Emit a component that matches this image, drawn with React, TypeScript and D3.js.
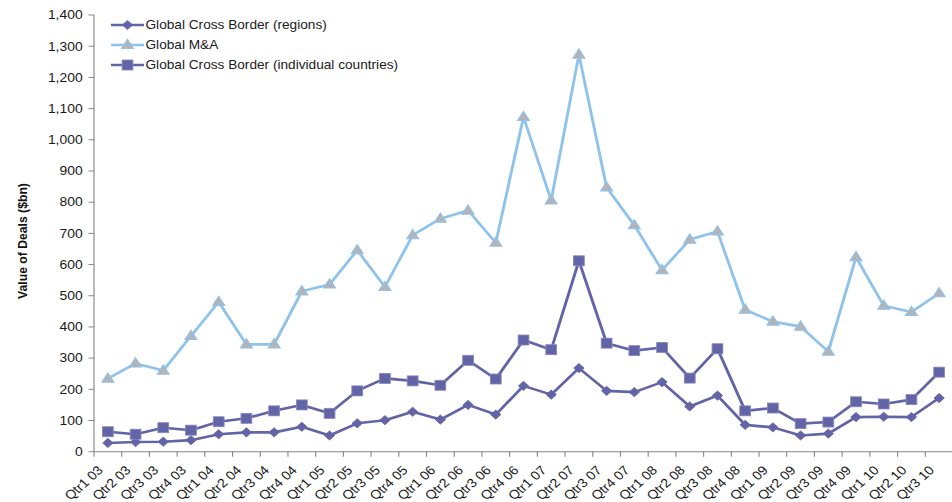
import React from "react";
import * as d3 from "d3";

const categories = [
  "Qtr1 03", "Qtr2 03", "Qtr3 03", "Qtr4 03",
  "Qtr1 04", "Qtr2 04", "Qtr3 04", "Qtr4 04",
  "Qtr1 05", "Qtr2 05", "Qtr3 05", "Qtr4 05",
  "Qtr1 06", "Qtr2 06", "Qtr3 06", "Qtr4 06",
  "Qtr1 07", "Qtr2 07", "Qtr3 07", "Qtr4 07",
  "Qtr1 08", "Qtr2 08", "Qtr3 08", "Qtr4 08",
  "Qtr1 09", "Qtr2 09", "Qtr3 09", "Qtr4 09",
  "Qtr1 10", "Qtr2 10", "Qtr3 10",
];

const crossBorderRegions = [
  28, 31, 32, 37, 56, 62, 62, 80, 52, 91, 101, 128, 103, 150, 119, 211,
  183, 268, 195, 191, 223, 145, 180, 86, 78, 52, 58, 111, 112, 111, 172,
];

const globalMA = [
  234, 283, 260, 371, 480, 344, 344, 514, 536, 646, 528, 694, 747, 773, 670, 1073,
  806, 1273, 847, 726, 582, 680, 706, 455, 417, 401, 321, 624, 468, 448, 508,
];

const crossBorderCountries = [
  64, 56, 77, 69, 96, 107, 131, 150, 123, 195, 235, 227, 213, 293, 233, 358,
  327, 612, 348, 324, 334, 236, 330, 131, 140, 90, 95, 160, 153, 167, 255,
];

const yTicks = [0, 100, 200, 300, 400, 500, 600, 700, 800, 900, 1000, 1100, 1200, 1300, 1400];

const DARK = "#6264a6";
const LIGHT = "#8fc3ea";
const TRI_FILL = "#b3b3b8";
const AXIS = "#868686";
const FONT = "'Liberation Sans', Arial, sans-serif";

// the whole drawing is widened horizontally by this factor
const SX = 1.12;
const W = 952;
const H = 502;

const x = d3.scaleBand<string>().domain(categories).range([94 / SX, 953 / SX]).padding(0);
const y = d3.scaleLinear().domain([0, 1400]).range([451.7, 15]);
const cx = (c: string) => (x(c) as number) + x.bandwidth() / 2;

const fmt = d3.format(",");

function lineFor(vals: number[]) {
  return d3
    .line<number>()
    .x((_, i) => cx(categories[i]))
    .y((v) => y(v))(vals) as string;
}

function Diamond({ px, py }: { px: number; py: number }) {
  const w = 4.6, h = 4.6;
  return <path d={`M${px},${py - h}L${px + w},${py}L${px},${py + h}L${px - w},${py}Z`} fill={DARK} stroke={DARK} strokeWidth={0.8} />;
}

function Square({ px, py }: { px: number; py: number }) {
  const w = 4.8, h = 5;
  return <rect x={px - w} y={py - h} width={2 * w} height={2 * h} fill={DARK} stroke="#8587bf" strokeWidth={0.8} />;
}

function Triangle({ px, py }: { px: number; py: number }) {
  const w = 5.4, top = 5.8, bot = 3.6;
  return <path d={`M${px},${py - top}L${px + w},${py + bot}L${px - w},${py + bot}Z`} fill={TRI_FILL} stroke={LIGHT} strokeWidth={1} />;
}

const series = [
  { name: "Global Cross Border (regions)", values: crossBorderRegions, color: DARK, Marker: Diamond },
  { name: "Global M&A", values: globalMA, color: LIGHT, Marker: Triangle },
  { name: "Global Cross Border (individual countries)", values: crossBorderCountries, color: DARK, Marker: Square },
];

export default function App() {
  const [x0, x1] = x.range();
  const tickXs = categories.map((c) => x(c) as number).concat([x1]);
  return (
    <svg width={W} height={H} style={{ position: "absolute", left: 0, top: 0, background: "#fff" }}>
      <g transform={`scale(${SX},1)`} fontFamily={FONT}>
        {/* y axis */}
        <line x1={x0} x2={x0} y1={y(1400)} y2={y(0)} stroke={AXIS} strokeWidth={1} />
        {yTicks.map((t) => (
          <g key={t}>
            <line x1={x0 - 5.5 / SX} x2={x0} y1={y(t)} y2={y(t)} stroke={AXIS} strokeWidth={1} />
            <text x={73.8} y={y(t)} dy="0.35em" textAnchor="end" fontSize={12.4} fill="#1a1a1a">
              {fmt(t)}
            </text>
          </g>
        ))}
        <text
          transform={`translate(${27 / SX},241) rotate(-90)`}
          textAnchor="middle"
          fontSize={12.2}
          fontWeight="bold"
          fill="#111"
        >
          Value of Deals ($bn)
        </text>

        {/* x axis */}
        <line x1={x0} x2={x1} y1={y(0)} y2={y(0)} stroke={AXIS} strokeWidth={1} />
        {tickXs.map((tx, i) => (
          <line key={i} x1={tx} x2={tx} y1={y(0)} y2={y(0) + 5} stroke={AXIS} strokeWidth={1} />
        ))}
        {categories.map((c) => (
          <text
            key={c}
            transform={`translate(${cx(c) - 7.5 / SX},${468}) rotate(-45)`}
            textAnchor="end"
            dy="0.35em"
            fontSize={12.6}
            fill="#1a1a1a"
          >
            {c}
          </text>
        ))}

        {/* series */}
        {series.map((s) => (
          <g key={s.name}>
            <path d={lineFor(s.values)} fill="none" stroke={s.color} strokeWidth={2.6} strokeLinejoin="round" />
            {s.values.map((v, i) => (
              <s.Marker key={i} px={cx(categories[i])} py={y(v)} />
            ))}
          </g>
        ))}

        {/* legend */}
        {series.map((s, i) => {
          const ly = 25 + i * 20;
          const lx0 = 111 / SX, lx1 = 144 / SX;
          return (
            <g key={s.name}>
              <line x1={lx0} x2={lx1} y1={ly} y2={ly} stroke={s.color} strokeWidth={2.6} />
              <s.Marker px={(lx0 + lx1) / 2} py={ly} />
              <text x={145.5 / SX} y={ly} dy="0.35em" fontSize={12.2} fill="#1a1a1a">
                {s.name}
              </text>
            </g>
          );
        })}
      </g>
    </svg>
  );
}
